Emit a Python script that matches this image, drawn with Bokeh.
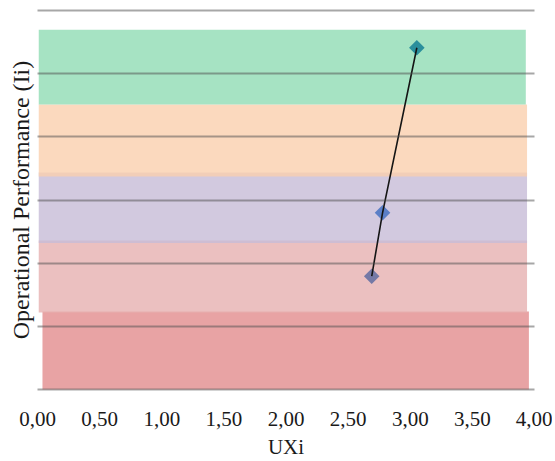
import numpy as np
from bokeh.plotting import figure
from bokeh.models import FixedTicker, CustomJSTickFormatter, Range1d
from bokeh.embed import file_html
from bokeh.resources import INLINE

# Data
x_ticks = [0.0, 0.5, 1.0, 1.5, 2.0, 2.5, 3.0, 3.5, 4.0]
y_grid = [0, 1, 2, 3, 4, 5, 6]

band_left = [0.04, 0.01, 0.01, 0.01, 0.01]
band_right = [3.955, 3.94, 3.94, 3.94, 3.93]
band_bottom = [0.0, 1.22, 2.32, 3.37, 4.51]
band_top = [1.235, 2.36, 3.435, 4.51, 5.695]
band_colors = ["#e28c8d", "#e6b0b0", "#c7bbd7", "#facfae", "#90dcb4"]

ux = [2.69, 2.777, 3.053]
ii = [1.794, 2.797, 5.409]
point_colors = ["#7479a6", "#5b7fc7", "#2b8f9c"]

SERIF = "'Liberation Serif', 'Times New Roman', serif"

p = figure(frame_width=497, frame_height=383,
           x_range=Range1d(0, 4), y_range=Range1d(-0.03, 6.03),
           output_backend="svg", toolbar_location=None,
           min_border_left=37, min_border_right=18,
           min_border_top=8, min_border_bottom=69)
p.outline_line_color = None
p.background_fill_color = "white"

p.quad(left=band_left, right=band_right, bottom=band_bottom, top=band_top,
       fill_color=band_colors, fill_alpha=0.8, line_color=None)

p.scatter(ux, ii, marker="square", angle=np.pi / 4, size=11,
          fill_color=point_colors, line_color=None)
p.line(ux, ii, line_color="#151515", line_width=1.6)

# grid
p.xgrid.visible = False
p.ygrid.ticker = FixedTicker(ticks=y_grid)
p.ygrid.grid_line_color = "#505050"
p.ygrid.grid_line_alpha = 0.5
p.ygrid.grid_line_width = 2
p.ygrid.level = "overlay"

# x axis
xa = p.xaxis[0]
xa.ticker = FixedTicker(ticks=x_ticks)
xa.formatter = CustomJSTickFormatter(code="return tick.toFixed(2).replace('.', ',');")
xa.axis_line_color = None
xa.major_tick_line_color = None
xa.minor_tick_line_color = None
xa.major_tick_out = 0
xa.major_label_standoff = 20
xa.major_label_text_font = SERIF
xa.major_label_text_font_size = "21px"
xa.major_label_text_color = "#1a1a1a"
xa.axis_label = "UXi"
xa.axis_label_text_font = SERIF
xa.axis_label_text_font_size = "21px"
xa.axis_label_text_font_style = "normal"
xa.axis_label_text_color = "#1a1a1a"
xa.axis_label_standoff = 6

# y axis
ya = p.yaxis[0]
ya.ticker = FixedTicker(ticks=y_grid)
ya.formatter = CustomJSTickFormatter(code="return '';")
ya.axis_line_color = None
ya.major_tick_line_color = None
ya.minor_tick_line_color = None
ya.major_tick_out = 0
ya.major_label_standoff = 0
ya.axis_label = "Operational Performance (Ii)"
ya.axis_label_text_font = SERIF
ya.axis_label_text_font_size = "24px"
ya.axis_label_text_font_style = "normal"
ya.axis_label_text_color = "#1a1a1a"
ya.axis_label_standoff = 4

open("out.html", "w").write(file_html(p, INLINE))
